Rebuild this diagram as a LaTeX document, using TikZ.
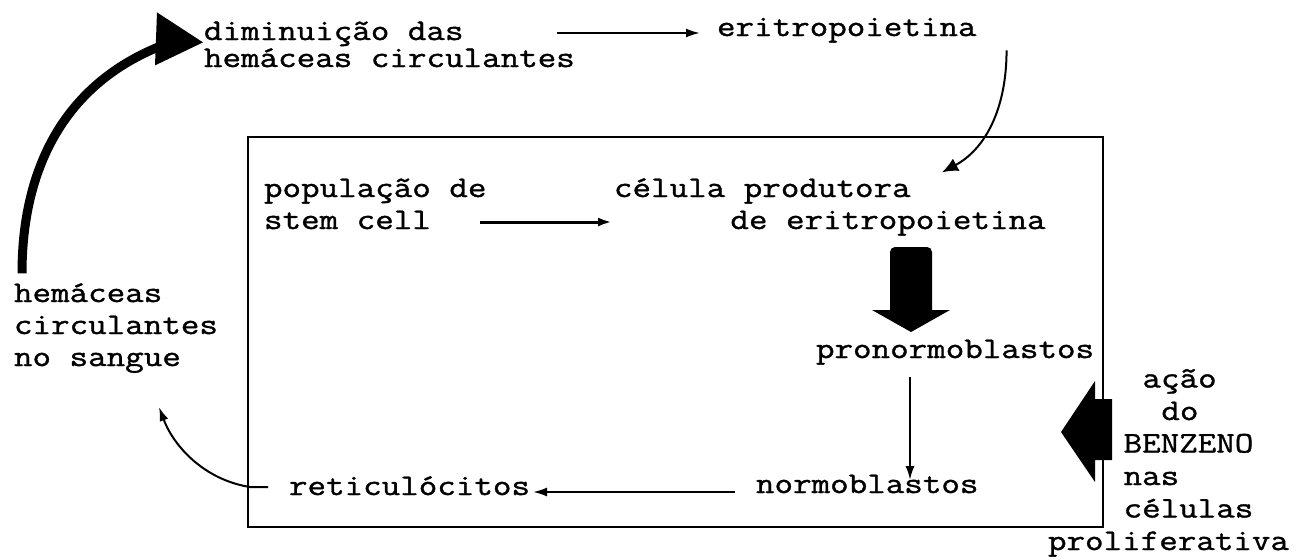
\documentclass[tikz,border=0pt]{standalone}
\usepackage{fontspec}
\setmonofont{Latin Modern Mono}[FakeBold=1.2, FakeStretch=1.2]
\usepackage{tikz}
\usetikzlibrary{arrows.meta,calc}
\tikzset{every picture/.style={line width=1pt}}
\tikzset{
  lbl/.style={font=\ttfamily\fontsize{15}{#1}\selectfont, inner sep=0pt, align=left, anchor=base west},
  lbl/.default=16,
  arr/.style={-{Latex[length=7pt,width=4.5pt]}},
  blob/.style={-{Latex[length=8pt,width=7pt]}},
}
\newcommand{\col}[1]{\hspace*{#1\dimexpr 9.45pt\relax}}

\begin{document}
\begin{tikzpicture}[x=0.5pt,y=0.5pt,yscale=-1,xscale=1]
	\path[use as bounding box] (0,0) rectangle (1308,559);

	% Text Node (base = last line)
	\node[lbl=13.5] (dim) at (203,67) {diminuição das\\hemáceas circulantes};
	% Text Node
	\node[lbl] (eri) at (716,36) {eritropoietina};
	% Text Node
	\node[lbl] (hem) at (13,366) {hemáceas\\circulantes\\no sangue};
	% Text Node
	\node[lbl] (pop) at (263,229) {população de\\stem cell};
	% Text Node
	\node[lbl] (cel) at (613,229) {célula produtora\\\col{6.16}de eritropoietina};
	% Text Node
	\node[lbl] (pro) at (815,358) {pronormoblastos};
	% Text Node
	\node[lbl] (nor) at (755,493) {normoblastos};
	% Text Node
	\node[lbl] (ret) at (288,495) {reticulócitos};
	% Text Node
	\node[lbl=16.25] (ben) at (1047,550) {\col{5}ação\\\col{6}do\\\col{4}BENZENO\\\col{4}nas\\\col{4}células\\proliferativa};

	%Shape: Rectangle
	\draw (248,137) rectangle (1103,527);

	%Curve Lines (thick, back to the top)
	\draw[line width=4.5pt] ($(hem.north west)+(9,-9)$) .. controls +(0,-112) and +(-95,36) .. ($(dim.west)+(-38,0)$);
	%Shape: Triangle
	\fill ($(dim.west)+(0,-2)$) -- ++(-46,-30) -- ++(-2,53) -- cycle;

	%Straight Lines
	\draw[arr] ($(eri.base west)+(-159,-3)$) -- ($(eri.base west)+(-16,-3)$);

	%Curve Lines
	\draw[blob] ($(eri.east)+(29,20)$) .. controls +(0,59) and +(43,-23) .. ($(cel.north west)+(329,-5)$);

	%Straight Lines
	\draw[arr, line width=1.5pt] ($(pop.base west)+(217,-7)$) -- ($(pop.base west)+(349,-7)$);

	%Shape: Block Arrow (down)
	\fill (890,310) [rounded corners=2.5] -- (890,247) -- (932,247) [sharp corners] -- (932,310) -- (950,310) -- (911,332) -- (872,310) -- cycle;

	%Straight Lines
	\draw[arr] ($(pro.base west)+(95,19)$) -- ($(nor.base west)+(155,-13)$);

	%Straight Lines
	\draw[arr] ($(nor.base west)+(-20,-1)$) -- ($(ret.base east)+(2,-3)$);

	%Curve Lines
	\draw[arr] ($(ret.base west)+(-20,-8)$) -- ++(-18,0) .. controls +(-45,-7) and +(15,40) .. ($(hem.base west)+(146,41)$);

	%Shape: Block Arrow (left)
	\fill (1112,399) -- (1095,399) -- (1095,381) -- (1061,432) -- (1095,482) -- (1095,460) -- (1112,460) -- cycle;

\end{tikzpicture}
\end{document}
